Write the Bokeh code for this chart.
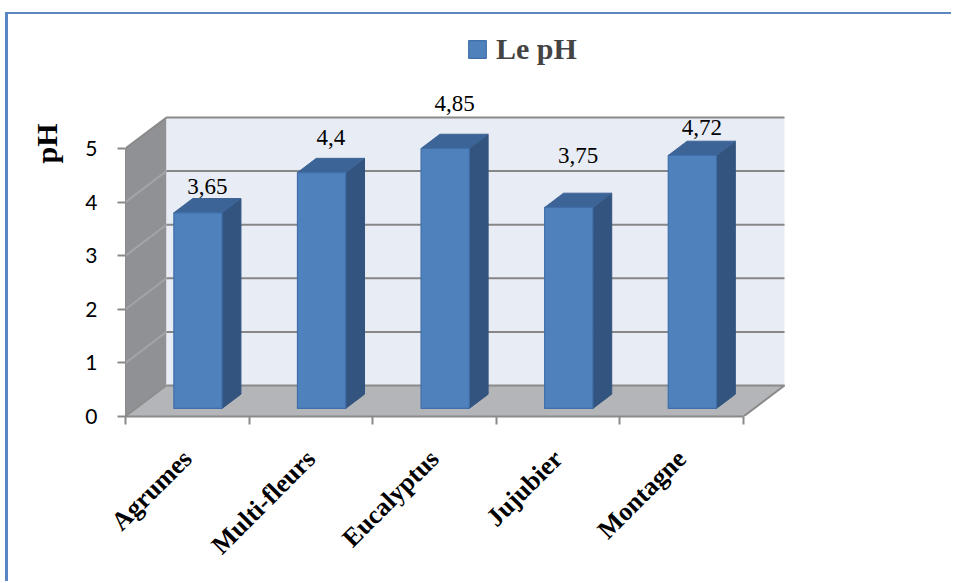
import math
import numpy as np
from bokeh.plotting import figure
from bokeh.models import (Range1d, FixedTicker, Legend, LegendItem, LabelSet, Title,
                          ColumnDataSource)
from bokeh.embed import file_html
from bokeh.resources import INLINE

# ---- data ----
categories = ["Agrumes", "Multi-fleurs", "Eucalyptus", "Jujubier", "Montagne"]
ph_values = [3.65, 4.4, 4.85, 3.75, 4.72]
ph_labels = ["3,65", "4,4", "4,85", "3,75", "4,72"]
y_ticks = [0, 1, 2, 3, 4, 5]
series_name = "Le pH"
axis_title = "pH"

# ---- layout (pixels) ----
PAGE_W, PAGE_H = 954, 583
OFF_X, OFF_Y = 8, 14            # chart-area border sits at the top-left of the page
W, H = PAGE_W - OFF_X, PAGE_H - OFF_Y
LEFT, TOP, BOTTOM = 117, 0, 167
PX_CAT = 123.6                  # pixels per category slot
PX_UNIT = 53.6                  # pixels per pH unit
frame_w = W - LEFT
frame_h = H - TOP - BOTTOM

# oblique depth of the 3-D box, expressed in data units
DX = 41 / PX_CAT
DY = 31 / PX_UNIT
D_FRONT, D_BACK = 0.26, 0.72    # depth span of the columns
BAR_W = 0.39                    # column width, in category slots
Y_MAX = y_ticks[-1]
label_lift_px = [12, 21, 31, 38, 14]   # gap between column top and its value label

# ---- colours ----
BACK_WALL = "#E8ECF5"
SIDE_WALL = "#8F9195"
FLOOR = "#B3B5B8"
GRID = "#878787"
SIDE_GRID = "#A3A4A6"
EDGE = "#8A8A8A"
FRONT = "#4F81BD"
SIDE = "#32547F"
TOPC = "#3D6496"
BAR_LINE = "#3F6EA8"
FRAME_BLUE = "#5A86C3"

n = len(categories)
vals = np.array(ph_values, dtype=float)

p = figure(width=W, height=H, output_backend="svg", toolbar_location=None,
           x_range=Range1d(0, frame_w / PX_CAT), y_range=Range1d(0, frame_h / PX_UNIT),
           min_border_left=LEFT, min_border_right=0, min_border_top=TOP,
           min_border_bottom=BOTTOM, tools="")
p.outline_line_color = None
p.grid.visible = False
p.background_fill_color = "white"
p.border_fill_color = "white"
p.styles = {"border-top": f"2px solid {FRAME_BLUE}",
            "border-left": f"3px solid {FRAME_BLUE}",
            "margin-left": "5px", "margin-top": "12px"}

# ---- walls and floor ----
p.patch([0, DX, DX, 0], [0, DY, Y_MAX + DY, Y_MAX], fill_color=SIDE_WALL, line_color=None)
p.quad(left=[DX], right=[n + DX], bottom=[DY], top=[Y_MAX + DY],
       fill_color=BACK_WALL, line_color=None)
p.patch([0, n, n + DX, DX], [0, 0, DY, DY], fill_color=FLOOR, line_color=None)

grid_levels = np.array(y_ticks[1:-1], dtype=float)
p.segment(x0=np.zeros_like(grid_levels), y0=grid_levels,
          x1=np.full_like(grid_levels, DX), y1=grid_levels + DY,
          line_color=SIDE_GRID, line_width=2)
p.segment(x0=np.full_like(grid_levels, DX), y0=grid_levels + DY,
          x1=np.full_like(grid_levels, n + DX), y1=grid_levels + DY,
          line_color=GRID, line_width=2)
# top edges of the walls
p.line([0, DX, n + DX], [Y_MAX, Y_MAX + DY, Y_MAX + DY], line_color=EDGE, line_width=2)
# floor edges
p.line([DX, n + DX, n], [DY, DY, 0], line_color=EDGE, line_width=2)
p.line([0, DX], [0, DY], line_color=EDGE, line_width=1.5)

# ---- columns ----
cx = np.arange(n) + 0.5 + D_FRONT * DX
xl = cx - BAR_W / 2
xr = cx + BAR_W / 2
y0 = D_FRONT * DY
ytop = vals + D_FRONT * DY
ddx = (D_BACK - D_FRONT) * DX
ddy = (D_BACK - D_FRONT) * DY

p.patches(xs=[[a, a + ddx, a + ddx, a] for a in xr],
          ys=[[y0, y0 + ddy, t + ddy, t] for t in ytop],
          fill_color=SIDE, line_color=SIDE, line_width=1)
p.patches(xs=[[a, b, b + ddx, a + ddx] for a, b in zip(xl, xr)],
          ys=[[t, t, t + ddy, t + ddy] for t in ytop],
          fill_color=TOPC, line_color=TOPC, line_width=1)
front = p.quad(left=xl, right=xr, bottom=np.full(n, y0), top=ytop,
               fill_color=FRONT, line_color=BAR_LINE, line_width=1.2)

# ---- value labels ----
lab_src = ColumnDataSource(dict(x=cx + ddx / 2, y=vals + D_BACK * DY,
                                text=ph_labels, lift=label_lift_px))
p.add_layout(LabelSet(x="x", y="y", text="text", y_offset="lift", source=lab_src,
                      text_align="center", text_baseline="middle",
                      text_font="Lato", text_font_size="23px", text_color="black"))

# ---- axes ----
ya = p.yaxis[0]
ya.ticker = FixedTicker(ticks=y_ticks, minor_ticks=[])
ya.bounds = (0, Y_MAX)
ya.axis_line_color = EDGE
ya.major_tick_out = 8
ya.major_tick_in = 0
ya.major_tick_line_color = EDGE
ya.major_tick_line_width = 2
ya.minor_tick_line_color = None
ya.major_label_standoff = 20
ya.major_label_text_font = "Lato"
ya.major_label_text_font_size = "21px"
ya.major_label_text_color = "black"

# vertical axis title, placed near the top of the value scale
p.add_layout(Title(text=axis_title, align="right", vertical_align="bottom",
                   offset=109, standoff=39, text_font="Liberation Serif",
                   text_font_style="bold", text_font_size="30px", text_color="black"),
             "left")

xa = p.xaxis[0]
centers = [i + 0.5 for i in range(n)]
xa.ticker = FixedTicker(ticks=centers, minor_ticks=list(range(n + 1)))
xa.major_label_overrides = {c: name for c, name in zip(centers, categories)}
xa.bounds = (0, n)
xa.axis_line_color = EDGE
xa.axis_line_width = 2
xa.major_tick_line_color = None
xa.major_tick_out = 0
xa.major_tick_in = 0
xa.minor_tick_line_color = EDGE
xa.minor_tick_line_width = 2
xa.minor_tick_out = 8
xa.minor_tick_in = 0
xa.major_label_orientation = math.pi / 4
xa.major_label_standoff = 30
xa.major_label_text_font = "Liberation Serif"
xa.major_label_text_font_style = "bold"
xa.major_label_text_font_size = "26px"
xa.major_label_text_color = "black"

# ---- legend ----
legend = Legend(items=[LegendItem(label=series_name, renderers=[front])],
                location=(341, 350), orientation="horizontal",
                glyph_width=22, glyph_height=22, label_standoff=8,
                label_text_font="Liberation Serif", label_text_font_style="bold",
                label_text_font_size="30px", border_line_alpha=0,
                background_fill_alpha=0, padding=0, margin=0, spacing=0)
p.add_layout(legend)

open("out.html", "w").write(file_html(p, INLINE))
